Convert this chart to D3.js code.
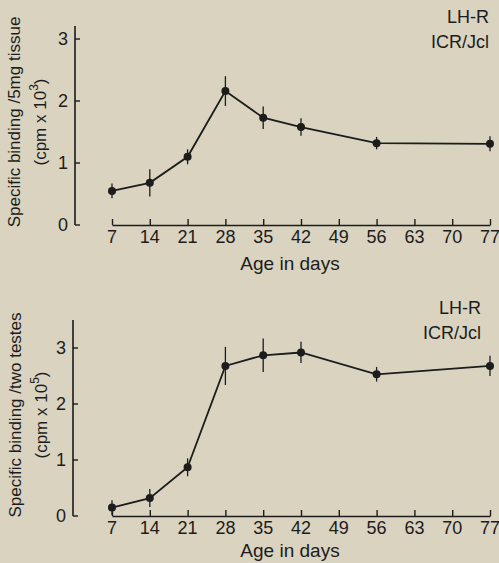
<!DOCTYPE html>
<html>
<head>
<meta charset="utf-8">
<script src="https://cdn.jsdelivr.net/npm/d3@7"></script>
<style>
  body { margin: 0; background: #d9d3c0; }
  svg { display: block; font-family: "Liberation Sans", Arial, sans-serif; }
</style>
</head>
<body>
<div id="chart"></div>
<script>
// ages (x) shared by both panels
var ages = [7, 14, 21, 28, 35, 42, 56, 77];
var xTicks = [7, 14, 21, 28, 35, 42, 49, 56, 63, 70, 77];

// top panel: binding /5mg tissue (cpm x 10^3)
var tissueMean = [0.55, 0.68, 1.10, 2.16, 1.73, 1.58, 1.32, 1.31];
var tissueErr  = [0.12, 0.22, 0.12, 0.24, 0.18, 0.14, 0.10, 0.12];

// bottom panel: binding /two testes (cpm x 10^5)
var testesMean = [0.15, 0.32, 0.87, 2.68, 2.87, 2.92, 2.53, 2.68];
var testesErr  = [0.13, 0.16, 0.16, 0.34, 0.30, 0.19, 0.13, 0.18];

var yTicks = [0, 1, 2, 3];
var ink = "#1c1c1c";

var svg = d3.select("#chart").append("svg")
    .attr("width", 499)
    .attr("height", 563);

var x = d3.scaleLinear().domain([7, 77]).range([112, 490]);

function panel(opts) {
    var y = d3.scaleLinear().domain([0, opts.yMax]).range([opts.y0, opts.yTop]);
    var g = svg.append("g");

    // y axis: separate vertical line (runs a bit past the top tick), ticks pointing right
    g.append("line")
        .attr("x1", opts.yAxisX).attr("x2", opts.yAxisX)
        .attr("y1", opts.axisTop).attr("y2", opts.y0)
        .attr("stroke", ink).attr("stroke-width", 1.6);
    g.selectAll(".ytick").data(yTicks).enter().append("line")
        .attr("x1", opts.yAxisX).attr("x2", opts.yAxisX + 5)
        .attr("y1", function(d){ return y(d); })
        .attr("y2", function(d){ return y(d); })
        .attr("stroke", ink).attr("stroke-width", 1.4);
    g.selectAll(".ylab").data(yTicks).enter().append("text")
        .attr("x", opts.yAxisX - 7)
        .attr("y", function(d){ return y(d); })
        .attr("dy", "0.36em")
        .attr("text-anchor", "end")
        .attr("font-size", 18)
        .attr("fill", ink)
        .text(function(d){ return d; });

    // x axis with ticks pointing up
    var xa = g.append("g")
        .attr("transform", "translate(0," + opts.y0 + ")")
        .call(d3.axisTop(x).tickValues(xTicks).tickSize(6).tickSizeOuter(0).tickFormat(""));
    xa.select(".domain").attr("stroke", ink).attr("stroke-width", 1.6);
    xa.selectAll(".tick line").attr("stroke", ink).attr("stroke-width", 1.4);

    g.selectAll(".xlab").data(xTicks).enter().append("text")
        .attr("x", function(d){ return x(d); })
        .attr("y", opts.y0 + 18)
        .attr("text-anchor", "middle")
        .attr("font-size", 18)
        .attr("fill", ink)
        .text(function(d){ return d; });

    g.append("text")
        .attr("x", 290).attr("y", opts.y0 + opts.titleDy)
        .attr("text-anchor", "middle")
        .attr("font-size", 19)
        .attr("fill", ink)
        .text("Age in days");

    // y title, rotated
    var yt = g.append("text")
        .attr("transform", "translate(" + opts.yTitleX + "," + opts.yTitleY + ") rotate(-90)")
        .attr("text-anchor", "middle")
        .attr("font-size", 17)
        .attr("fill", ink);
    yt.append("tspan").attr("x", 0).attr("dy", 0).text(opts.yTitle);
    yt.append("tspan").attr("x", 0).attr("dy", 26).text("(cpm x 10");
    yt.append("tspan").attr("dy", -8).attr("font-size", 12).text(opts.exp);
    yt.append("tspan").attr("dy", 8).text(")");

    // legend
    g.append("text").attr("x", opts.legX).attr("y", opts.legY)
        .attr("text-anchor", "end").attr("font-size", 18).attr("fill", ink).text("LH-R");
    g.append("text").attr("x", opts.legX).attr("y", opts.legY + 25)
        .attr("text-anchor", "end").attr("font-size", 18).attr("fill", ink).text("ICR/Jcl");

    var pts = ages.map(function(a, i){ return {age: a, v: opts.mean[i], e: opts.err[i]}; });

    var line = d3.line().x(function(d){ return x(d.age); }).y(function(d){ return y(d.v); });
    g.append("path").datum(pts)
        .attr("d", line)
        .attr("fill", "none")
        .attr("stroke", ink)
        .attr("stroke-width", 1.8);

    g.selectAll(".err").data(pts).enter().append("line")
        .attr("x1", function(d){ return x(d.age); })
        .attr("x2", function(d){ return x(d.age); })
        .attr("y1", function(d){ return y(d.v - d.e); })
        .attr("y2", function(d){ return y(d.v + d.e); })
        .attr("stroke", ink).attr("stroke-width", 1.3);

    g.selectAll(".dot").data(pts).enter().append("circle")
        .attr("cx", function(d){ return x(d.age); })
        .attr("cy", function(d){ return y(d.v); })
        .attr("r", 4)
        .attr("fill", ink);
}

panel({
    mean: tissueMean, err: tissueErr, yMax: 3,
    y0: 225, yTop: 39, axisTop: 26, yAxisX: 75,
    titleDy: 45,
    yTitle: "Specific binding /5mg tissue", exp: "3",
    yTitleX: 20, yTitleY: 122,
    legX: 489, legY: 23
});

panel({
    mean: testesMean, err: testesErr, yMax: 3,
    y0: 516, yTop: 348, axisTop: 320, yAxisX: 73,
    titleDy: 41,
    yTitle: "Specific binding /two testes", exp: "5",
    yTitleX: 21, yTitleY: 415,
    legX: 481, legY: 314
});
</script>
</body>
</html>
